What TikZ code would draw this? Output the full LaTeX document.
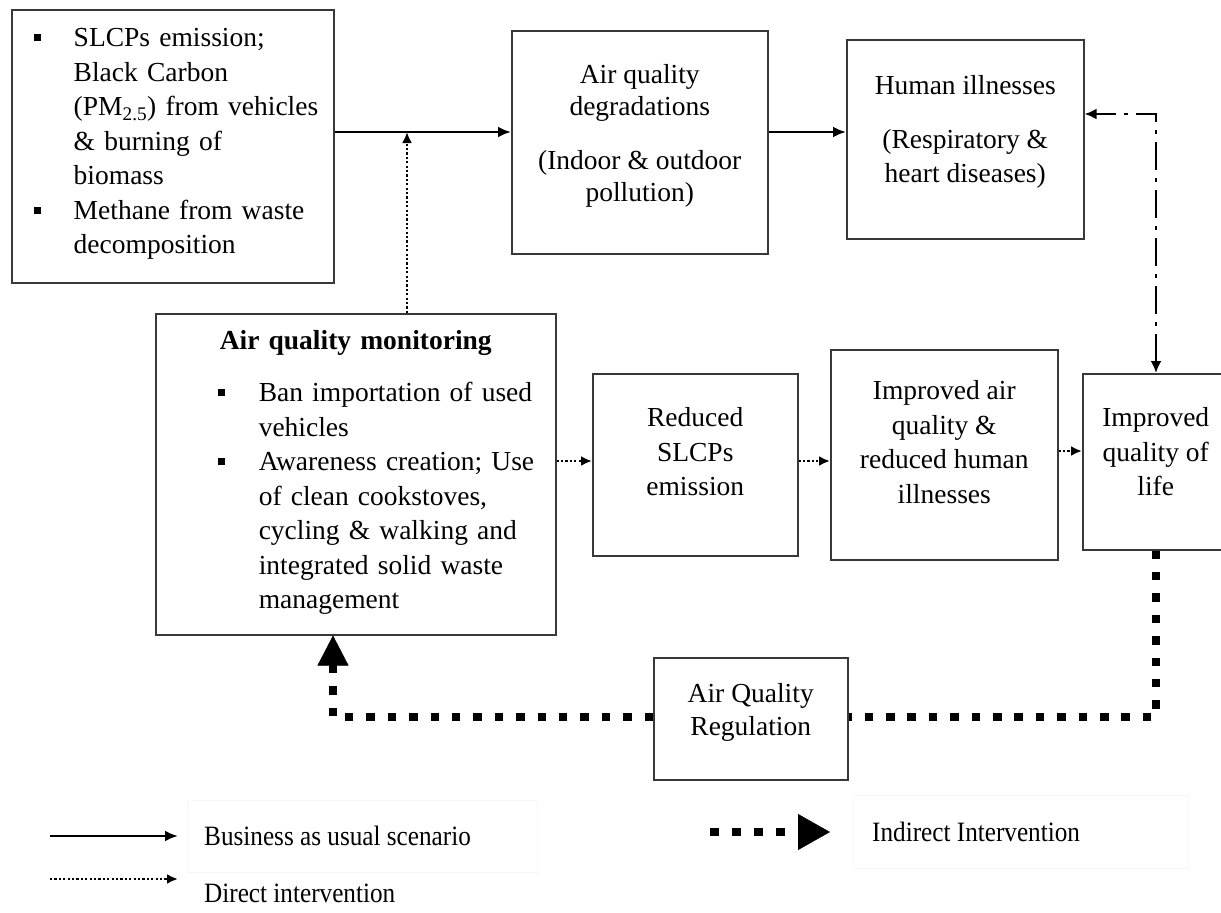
\documentclass[tikz,border=0pt]{standalone}
\usepackage{fontspec}
\setmainfont{Liberation Serif}
\usepackage{graphicx}
\usetikzlibrary{arrows.meta}
\newcommand{\sqb}{\rule[5.5pt]{7pt}{7pt}}
\newcommand{\dn}[1]{\rule[-#1]{0pt}{#1}}
\begin{document}
\begin{tikzpicture}[x=1pt,y=-1pt,
  box/.style={draw=black!78, line width=1.5pt, anchor=north west, inner sep=0pt, align=center, font=\fontsize{27.5}{34.5}\selectfont},
  listbox/.style={box, align=left},
  bau/.style={line width=2.8pt, -{Latex[length=13pt,width=11pt]}},
  direct/.style={line width=2.4pt, dash pattern=on 2.2pt off 2.2pt, -{Latex[length=11pt,width=10pt]}},
  indirect/.style={line width=8.5pt, dash pattern=on 8.5pt off 12.9pt},
  bigtip/.style={-{Triangle[length=30pt,width=31pt,line width=0.4pt]}},
  dashdot/.style={line width=2.5pt, dash pattern=on 28pt off 8pt on 4pt off 8pt, {Latex[length=12pt,width=11pt]}-{Latex[length=12pt,width=11pt]}},
  legtext/.style={inner sep=0pt, anchor=west, font=\fontsize{28}{32}\selectfont},
  legbg/.style={draw=black!3, line width=0.8pt}
]
\useasboundingbox (0,0) rectangle (1221,913);
\fill[white] (0,0) rectangle (1221,913);
\clip (0,0) rectangle (1221,913);

% legend backgrounds
\draw[legbg] (187,800) rectangle (537,872);
\draw[legbg] (853,795) rectangle (1188,868);

% boxes
\node[listbox, minimum width=322pt, minimum height=273pt, text width=322pt] (src) at (11,9) {%
\hspace*{22pt}\makebox[40pt][l]{\sqb}SLCPs emission;\\
\hspace*{62pt}Black Carbon\\
\hspace*{62pt}(PM\textsubscript{2.5}) from vehicles\\
\hspace*{62pt}\& burning of\\
\hspace*{62pt}biomass\\
\hspace*{22pt}\makebox[40pt][l]{\sqb}Methane from waste\\
\hspace*{62pt}decomposition\dn{10pt}};

\node[box, minimum width=256pt, minimum height=223pt, font=\fontsize{27.5}{32}\selectfont] (degr) at (511,30)
  {Air quality\\degradations\\[22pt](Indoor \& outdoor\\pollution)\dn{18pt}};

\node[box, minimum width=237pt, minimum height=199pt] (ill) at (846,39)
  {Human illnesses\\[19pt](Respiratory \&\\heart diseases)\dn{20pt}};

\node[listbox, minimum width=400pt, minimum height=321pt, text width=400pt] (mon) at (155,313) {%
\makebox[400pt][c]{\bfseries Air quality monitoring}\\[18pt]
\hspace*{62pt}\makebox[41pt][l]{\sqb}Ban importation of used\\
\hspace*{103pt}vehicles\\
\hspace*{62pt}\makebox[41pt][l]{\sqb}Awareness creation; Use\\
\hspace*{103pt}of clean cookstoves,\\
\hspace*{103pt}cycling \& walking and\\
\hspace*{103pt}integrated solid waste\\
\hspace*{103pt}management\dn{10pt}};

\node[box, minimum width=205pt, minimum height=182pt] (red) at (592,373) {Reduced\\SLCPs\\emission\dn{26pt}};
\node[box, minimum width=227pt, minimum height=210pt] (impr) at (830,349) {Improved air\\quality \&\\reduced human\\illnesses\dn{26pt}};
\node[box, minimum width=146pt, minimum height=176pt] (qol) at (1082,373) {Improved\\quality of\\life\dn{20pt}};
\node[box, minimum width=194pt, minimum height=122pt, font=\fontsize{27.5}{33}\selectfont] (reg) at (653,657) {Air Quality\\Regulation\dn{18pt}};

% helper coordinates
\coordinate (row1) at (0,132);
\coordinate (row2) at (0,461);
\coordinate (row3) at (0,451);
\coordinate (jx) at (407,132);
\coordinate (ddc) at (1156,114);
\coordinate (ind) at (1156,717);
\coordinate (inl) at (333,717);

% connectors
\draw[bau] (src.east |- row1) -- (degr.west |- row1);
\draw[bau] (degr.east |- row1) -- (ill.west |- row1);
\draw[direct] (mon.north -| jx) -- (jx);
\draw[direct] (mon.east |- row2) -- (red.west |- row2);
\draw[direct] (red.east |- row2) -- (impr.west |- row2);
\draw[direct] (impr.east |- row3) -- (qol.west |- row3);
\draw[dashdot] (qol.north -| ddc) -- (ddc) -- (ill.east |- ddc);
\draw[indirect] (qol.south -| ind) -- (ind) -- (reg.east |- ind);
\draw[indirect, bigtip] (reg.west |- inl) -- (inl) -- (mon.south -| inl);

% legend
\coordinate (la1) at (50,836); \coordinate (la2) at (178,836);
\draw[bau] (la1) -- (la2);
\node[legtext] (lt1) at (204,836) {\scalebox{0.9}[1]{Business as usual scenario}};
\coordinate (lb1) at (710,832); \coordinate (lb2) at (830,832);
\draw[line width=8.5pt, dash pattern=on 9pt off 13pt, -{Triangle[length=32pt,width=36pt,line width=0.4pt]}] (lb1) -- (lb2);
\node[legtext] (lt2) at (872,832) {\scalebox{0.9}[1]{Indirect Intervention}};
\coordinate (lc1) at (50,879); \coordinate (lc2) at (178,879);
\draw[direct] (lc1) -- (lc2);
\node[legtext] (lt3) at (204,893) {\scalebox{0.9}[1]{Direct intervention}};
\end{tikzpicture}
\end{document}
